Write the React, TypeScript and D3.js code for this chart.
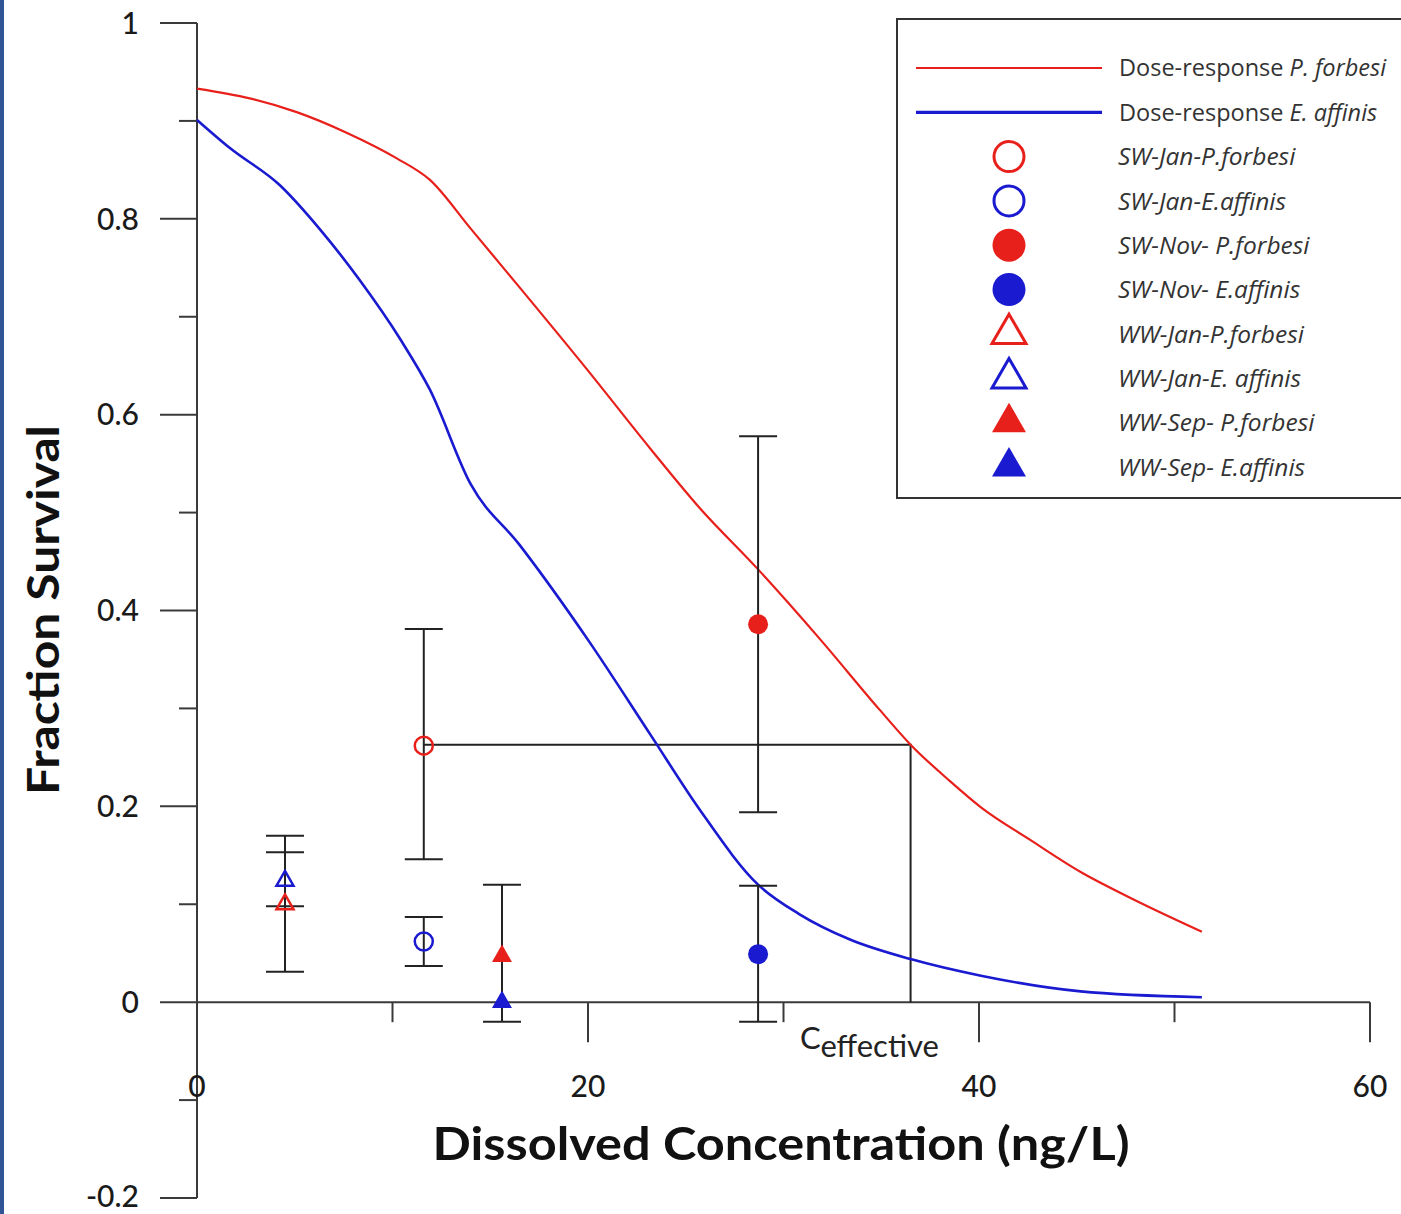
import React from 'react';
import * as d3 from 'd3';

// Dose-response curves: [concentration ng/L, fraction survival]
const curvePForbesi: [number, number][] = [
  [0, 0.933], [2.7, 0.923], [5.1, 0.909], [7.65, 0.888], [10.2, 0.862], [11.9, 0.84],
  [14.0, 0.79], [16.5, 0.73], [20.0, 0.645], [23.2, 0.565], [25.7, 0.505], [28.7, 0.442],
  [31.9, 0.37], [34.9, 0.299], [36.5, 0.263], [38.5, 0.226], [40.1, 0.199], [42.6, 0.166],
  [45.2, 0.133], [47.7, 0.107], [51.4, 0.072],
];
const curveEAffinis: [number, number][] = [
  [0, 0.901], [1.7, 0.872], [4.2, 0.835], [6.3, 0.789], [8.3, 0.738], [10.4, 0.677],
  [11.9, 0.626], [14.0, 0.529], [16.5, 0.467], [20.0, 0.37], [23.2, 0.273], [25.7, 0.197],
  [28.7, 0.12], [30.8, 0.09], [33.4, 0.064], [36.5, 0.044], [40.1, 0.027], [45.2, 0.011],
  [51.4, 0.005],
];

// Observed points
const pointNames = ['SW-Jan-P.forbesi', 'SW-Jan-E.affinis', 'SW-Nov-P.forbesi', 'SW-Nov-E.affinis',
  'WW-Jan-P.forbesi', 'WW-Jan-E.affinis', 'WW-Sep-P.forbesi', 'WW-Sep-E.affinis'];
const pointX = [11.6, 11.6, 28.7, 28.7, 4.5, 4.5, 15.6, 15.6];
const pointY = [0.262, 0.062, 0.386, 0.049, 0.1, 0.124, 0.047, 0.0];
const pointColor = ['red', 'blue', 'red', 'blue', 'red', 'blue', 'red', 'blue'];
const pointShape = ['circle', 'circle', 'circle', 'circle', 'triangle', 'triangle', 'triangle', 'triangle'];
const pointFilled = [false, false, true, true, false, false, true, true];

// Error bars
const errX = [4.5, 4.5, 11.6, 11.6, 15.6, 28.7, 28.7];
const errLo = [0.031, 0.098, 0.146, 0.037, -0.02, 0.194, -0.02];
const errHi = [0.17, 0.153, 0.381, 0.087, 0.12, 0.578, 0.119];

// C_effective construction
const cRef = { x0: 11.6, level: 0.263, cEff: 36.5 };

// Axis ticks
const yMajor = [-0.2, 0, 0.2, 0.4, 0.6, 0.8, 1];
const yMajorLabels = ['-0.2', '0', '0.2', '0.4', '0.6', '0.8', '1'];
const yMinor = [-0.1, 0.1, 0.3, 0.5, 0.7, 0.9];
const xMajor = [20, 40, 60];
const xLabelsAt = [0, 20, 40, 60];
const xLabels = ['0', '20', '40', '60'];
const xMinor = [10, 30, 50];

// Legend
const legendLines = [
  { pre: 'Dose-response ', it: 'P. forbesi', color: '#e8201c', w: 2 },
  { pre: 'Dose-response ', it: 'E. affinis', color: '#1a1ad0', w: 3.2 },
];
const legendPoints = ['SW-Jan-P.forbesi', 'SW-Jan-E.affinis', 'SW-Nov- P.forbesi', 'SW-Nov- E.affinis',
  'WW-Jan-P.forbesi', 'WW-Jan-E. affinis', 'WW-Sep- P.forbesi', 'WW-Sep- E.affinis'];

const RED = '#e8201c';
const BLUE = '#1a1ad0';
const col = (c: string) => (c === 'red' ? RED : BLUE);

export default function App() {
  const x = d3.scaleLinear().domain([0, 60]).range([197, 1370]);
  const y = d3.scaleLinear().domain([-0.2, 1]).range([1198, 23]);
  const line = d3.line<[number, number]>().x(d => x(d[0])).y(d => y(d[1]));
  const axisColor = '#3a3a3a';
  const font = 'Lato, "Open Sans", sans-serif';
  const legendFont = '"Open Sans", Lato, sans-serif';

  const marker = (shape: string, filled: boolean, c: string, cx: number, cy: number, big: boolean, key: string) => {
    if (shape === 'circle') {
      const r = big ? (filled ? 16.5 : 15) : (filled ? 10 : 9);
      return (
        <circle key={key} cx={cx} cy={cy} r={r} fill={filled ? c : 'none'} stroke={c}
          strokeWidth={filled ? 0 : (big ? 3 : 2.5)} />
      );
    }
    const side = big ? 34 : (filled ? 20 : 17);
    const area = (Math.sqrt(3) / 4) * side * side;
    const p = d3.symbol().type(d3.symbolTriangle).size(area)()!;
    return (
      <path key={key} d={p} transform={`translate(${cx},${cy})`} fill={filled ? c : 'none'} stroke={c}
        strokeWidth={filled ? 0 : (big ? 3 : 2.5)} strokeLinejoin="miter" />
    );
  };

  const legendX = 897, legendY = 19;
  const rowY = (i: number) => 68 + i * 44.3;

  return (
    <svg width={1401} height={1214} style={{ position: 'absolute', left: 0, top: 0, background: '#fff' }}
      fontFamily={font}>
      <rect x={0} y={0} width={1401} height={1214} fill="#fff" />
      <rect x={0} y={0} width={4} height={1214} fill="#2f5597" />

      {/* Y axis */}
      <line x1={x(0)} x2={x(0)} y1={y(1)} y2={y(-0.2)} stroke={axisColor} strokeWidth={2} />
      {yMajor.map(v => (
        <line key={'ym' + v} x1={160} x2={x(0)} y1={y(v)} y2={y(v)} stroke={axisColor} strokeWidth={2} />
      ))}
      {yMinor.map(v => (
        <line key={'yn' + v} x1={179} x2={x(0)} y1={y(v)} y2={y(v)} stroke={axisColor} strokeWidth={2} />
      ))}
      {yMajor.map((v, i) => (
        <text key={'yl' + v} x={139} y={Math.min(y(v), 1196)} dy="0.36em" textAnchor="end" fontSize={30}
          fontWeight={500} fill="#1a1a1a">
          {yMajorLabels[i]}
        </text>
      ))}

      {/* X axis */}
      <line x1={x(0)} x2={x(60)} y1={y(0)} y2={y(0)} stroke={axisColor} strokeWidth={2} />
      {xMajor.map(v => (
        <line key={'xm' + v} x1={x(v)} x2={x(v)} y1={y(0)} y2={y(0) + 40} stroke={axisColor} strokeWidth={2} />
      ))}
      {xMinor.map(v => (
        <line key={'xn' + v} x1={x(v)} x2={x(v)} y1={y(0)} y2={y(0) + 20} stroke={axisColor} strokeWidth={2} />
      ))}
      {xLabelsAt.map((v, i) => (
        <text key={'xl' + v} x={x(v)} y={1097} textAnchor="middle" fontSize={30} fontWeight={500} fill="#1a1a1a">
          {xLabels[i]}
        </text>
      ))}

      {/* Axis titles */}
      <text x={781} y={1160} textAnchor="middle" fontSize={46} fontWeight="bold" fill="#111"
        textLength={697} lengthAdjust="spacingAndGlyphs">Dissolved Concentration (ng/L)</text>
      <text transform="translate(59,610) rotate(-90)" textAnchor="middle" fontSize={43} fontWeight="bold"
        fill="#111" textLength={370} lengthAdjust="spacingAndGlyphs">Fraction Survival</text>

      {/* C effective construction */}
      <polyline
        points={`${x(cRef.x0)},${y(cRef.level)} ${x(cRef.cEff)},${y(cRef.level)} ${x(cRef.cEff)},${y(0)}`}
        fill="none" stroke="#222" strokeWidth={2} />
      <text x={800} y={1049} fontSize={31} fill="#222">
        C<tspan dy={8}>effective</tspan>
      </text>

      {/* Dose-response curves */}
      <path d={line.curve(d3.curveMonotoneX)(curvePForbesi)!} fill="none" stroke={RED} strokeWidth={2.2} />
      <path d={line.curve(d3.curveMonotoneX)(curveEAffinis)!} fill="none" stroke={BLUE} strokeWidth={2.6} />

      {/* Error bars */}
      {errX.map((v, i) => (
        <g key={'e' + i} stroke="#222" strokeWidth={2}>
          <line x1={x(v)} x2={x(v)} y1={y(errLo[i])} y2={y(errHi[i])} />
          <line x1={x(v) - 19} x2={x(v) + 19} y1={y(errLo[i])} y2={y(errLo[i])} />
          <line x1={x(v) - 19} x2={x(v) + 19} y1={y(errHi[i])} y2={y(errHi[i])} />
        </g>
      ))}

      {/* Points */}
      {pointNames.map((n, i) =>
        marker(pointShape[i], pointFilled[i], col(pointColor[i]), x(pointX[i]), y(pointY[i]), false, 'p' + i)
      )}

      {/* Legend */}
      <rect x={legendX} y={legendY} width={540} height={479} fill="#fff" stroke="#333" strokeWidth={2} />
      {legendLines.map((l, i) => (
        <g key={'ll' + i}>
          <line x1={916} x2={1102} y1={rowY(i)} y2={rowY(i)} stroke={l.color} strokeWidth={l.w} />
          <text x={1119} y={rowY(i)} dy="0.36em" fontSize={23.5} fill="#333" fontFamily={legendFont}>
            {l.pre}<tspan fontStyle="italic">{l.it}</tspan>
          </text>
        </g>
      ))}
      {legendPoints.map((t, i) => (
        <g key={'lp' + i}>
          {marker(pointShape[i], pointFilled[i], col(pointColor[i]), 1009, rowY(i + 2), true, 'lm' + i)}
          <text x={1118} y={rowY(i + 2)} dy="0.36em" fontSize={24.5} fontStyle="italic" fill="#333"
            fontFamily={legendFont}>{t}</text>
        </g>
      ))}
    </svg>
  );
}
